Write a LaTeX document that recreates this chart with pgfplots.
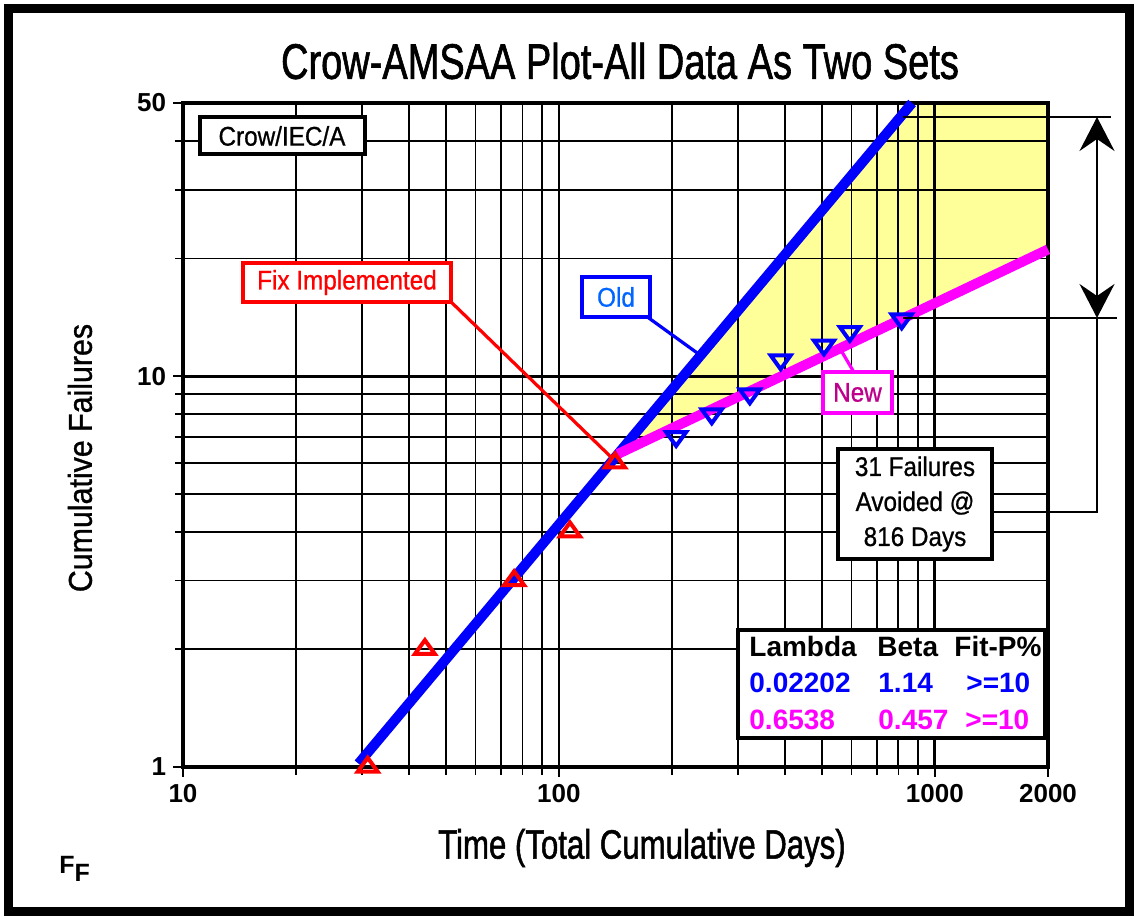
\documentclass[border=0pt]{standalone}
\usepackage{pgfplots}
\pgfplotsset{compat=1.18}
\usetikzlibrary{arrows.meta}
\usepackage{fontspec}
\setmainfont{Liberation Sans}
\newfontfamily\condfont[FakeStretch=0.76,FakeBold=1.2]{Liberation Sans}
\newfontfamily\midfont[FakeStretch=0.92,FakeBold=1.0]{Liberation Sans}
\newfontfamily\boxfont[FakeStretch=0.9,FakeBold=0.8]{Liberation Sans}
\definecolor{myblue}{RGB}{0,0,255}
\definecolor{mymag}{RGB}{255,0,255}
\definecolor{myred}{RGB}{255,0,0}
\definecolor{oldtext}{RGB}{0,102,255}
\definecolor{newtext}{RGB}{190,0,140}
\definecolor{yfill}{RGB}{255,255,153}
\begin{document}
\begin{tikzpicture}
\begin{axis}[
  at={(0,0)}, anchor=south west,
  set layers,
  scale only axis, width=432.5pt, height=332pt,
  xmode=log, ymode=log, xmin=10, xmax=2000, ymin=1, ymax=50,
  xtick={10,100,1000,2000}, xticklabels={10,100,1000,2000},
  ytick={1,10,50}, yticklabels={1,10,50},
  minor xtick={20,30,40,50,60,70,80,90,200,300,400,500,600,700,800,900},
  minor ytick={2,3,4,5,6,7,8,9,20,30,40},
  grid=both,
  major grid style={black, line width=1.4pt},
  minor grid style={black, line width=0.95pt},
  axis line style={black, line width=2.2pt},
  tick pos=left,
  tick align=outside, major tick length=5pt, minor tick length=4pt,
  every tick/.style={black, line width=0.9pt},
  ticklabel style={font=\fontsize{13}{13}\selectfont\bfseries},
  clip=false,
]
\addplot[draw=none, fill=yfill, on layer=axis background] coordinates {(143.3,6.32) (879,50) (2000,50) (2000,21.1)} -- cycle;
\addplot[myblue, line width=5pt] coordinates {(29.3,1.02) (870,50)};
\addplot[mymag, line width=5pt] coordinates {(143.3,6.32) (2000,21.1)};
\addplot[only marks, mark=triangle, mark size=4.6pt, myred, mark options={line width=2pt, xscale=1.25}] coordinates {(31,1) (44,2) (76,3) (107,4) (141,6)};
\addplot[only marks, mark=triangle, mark size=4.6pt, myblue, mark options={line width=2pt, xscale=1.25, rotate=180}] coordinates {(205,7) (255,8) (322,9) (389,11) (507,12) (594,13) (816,14)};
\end{axis}
\begin{scope}[x=0.5pt,y=-0.5pt,shift={(-183,-767)}]
\path (0,0) rectangle (1138,920);
\draw[line width=4.5pt] (8.5,8.5) rectangle (1129.5,911.5);
\node[font=\condfont\fontsize{25}{25}\selectfont] at (620,61) {Crow-AMSAA Plot-All Data As Two Sets};
\node[rotate=90, font=\midfont\fontsize{16.5}{16.5}\selectfont] at (80,458) {Cumulative Failures};
\node[font=\condfont\fontsize{20.5}{20.5}\selectfont] at (642,848) {Time (Total Cumulative Days)};
\node[anchor=base west, inner sep=0, font=\bfseries\fontsize{12.5}{12.5}\selectfont] at (59,873) {F\raisebox{-4pt}{F}};
% Crow/IEC/A
\node[draw, line width=2pt, fill=white, minimum width=82.5pt, minimum height=18.5pt, inner sep=0, font=\boxfont\fontsize{13.5}{13.5}\selectfont] at (282,136) {Crow/IEC/A};
% Fix implemented
\draw[myred, line width=1.6pt] (448,299) -- (612,458);
\node[draw=myred, text=myred, line width=2.2pt, fill=white, minimum width=104pt, minimum height=19.5pt, inner sep=0, font=\boxfont\fontsize{13.5}{13.5}\selectfont] at (347,282.5) {Fix Implemented};
% Old
\draw[myblue, line width=1.6pt] (646,316) -- (700,355);
\node[draw=myblue, text=oldtext, line width=2.2pt, fill=white, minimum width=34pt, minimum height=20pt, inner sep=0, font=\boxfont\fontsize{13.5}{13.5}\selectfont] at (616,297) {Old};
% New
\draw[mymag, line width=1.6pt] (855,374) -- (842,352);
\node[draw=mymag, text=newtext, line width=2.2pt, fill=white, minimum width=34.5pt, minimum height=20.5pt, inner sep=0, font=\boxfont\fontsize{13.5}{13.5}\selectfont] at (857.5,392.5) {New};
% dimension lines
\draw[line width=1.2pt] (903,117) -- (1111,117);
\draw[line width=1.2pt] (903,318) -- (1117,318);
\draw[line width=1.2pt] (992,512) -- (1097,512) -- (1097,318);
\draw[line width=1.2pt, {Stealth[length=17pt,width=17.5pt,inset=6pt]}-{Stealth[length=17pt,width=17.5pt,inset=6pt]}] (1097,318) -- (1097,117);
% 31 failures box
\node[draw, line width=2.2pt, fill=white, minimum width=77pt, minimum height=55pt, inner sep=0, align=center, font=\boxfont\fontsize{13.5}{17.5}\selectfont] at (915,504) {31 Failures\\Avoided @\\816 Days};
% parameter table
\draw[line width=2.2pt, fill=white] (738,630) rectangle (1045,738);
\begin{scope}[every node/.style={anchor=base west, inner sep=0, font=\bfseries\fontsize{14}{14}\selectfont}]
\node at (749,656) {Lambda};
\node at (877,656) {Beta};
\node at (954,656) {Fit-P\%};
\node[text=myblue] at (749,692) {0.02202};
\node[text=myblue] at (878,692) {1.14};
\node[text=myblue] at (966,692) {>=10};
\node[text=mymag] at (749,729) {0.6538};
\node[text=mymag] at (878,729) {0.457};
\node[text=mymag] at (965,729) {>=10};
\end{scope}
\end{scope}
\end{tikzpicture}
\end{document}
